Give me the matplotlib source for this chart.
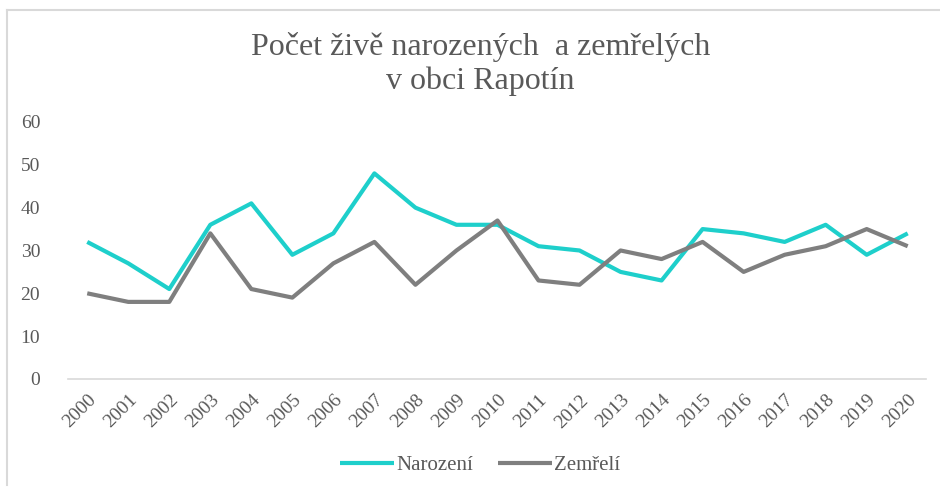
import matplotlib.pyplot as plt
from matplotlib.lines import Line2D

years = [str(y) for y in range(2000, 2021)]
narozeni = [32, 27, 21, 36, 41, 29, 34, 48, 40, 36, 36, 31, 30, 25, 23, 35, 34, 32, 36, 29, 34]
zemreli = [20, 18, 18, 34, 21, 19, 27, 32, 22, 30, 37, 23, 22, 30, 28, 32, 25, 29, 31, 35, 31]

plt.rcParams['font.family'] = ['Liberation Serif', 'DejaVu Serif']
txt_color = '#595959'

fig = plt.figure(figsize=(9.4, 4.87), dpi=100)
ax = fig.add_axes([0.0723, 0.2218, 0.913, 0.5277])

x = range(len(years))
ax.plot(x, narozeni, color='#1ECFCB', linewidth=3, label='Narození', solid_capstyle='butt')
ax.plot(x, zemreli, color='#7F7F7F', linewidth=3, label='Zemřelí', solid_capstyle='butt')

ax.set_xlim(-0.47, 20.45)
ax.set_ylim(0, 60)
ax.set_yticks(range(0, 61, 10))
ax.set_xticks(list(x))
ax.set_xticklabels(years, rotation=45, ha='right', rotation_mode='anchor')
ax.tick_params(axis='both', length=0, labelsize=14, colors=txt_color)
ax.tick_params(axis='y', pad=20)
ax.tick_params(axis='x', pad=9)
for side in ['top', 'right', 'left']:
    ax.spines[side].set_visible(False)
ax.spines['bottom'].set_color('#D9D9D9')
ax.spines['bottom'].set_linewidth(1.2)

fig.text(0.511, 1 - 47 / 487, 'Počet živě narozených  a zemřelých',
         ha='center', va='center', fontsize=23, color=txt_color)
fig.text(0.511, 1 - 81 / 487, 'v obci Rapotín',
         ha='center', va='center', fontsize=23, color=txt_color)

ax.legend(loc='center', bbox_to_anchor=(0.511, 1 - 465 / 487), bbox_transform=fig.transFigure,
          ncol=2, frameon=False, fontsize=15, handlelength=2.6, handletextpad=0.1,
          columnspacing=1.2, labelcolor=txt_color)

# chart frame (left and top edges visible)
fig.add_artist(Line2D([7 / 940, 7 / 940], [1 - 485 / 487, 1 - 10 / 487],
                      transform=fig.transFigure, color='#D9D9D9', linewidth=1.5))
fig.add_artist(Line2D([7 / 940, 1], [1 - 10 / 487, 1 - 10 / 487],
                      transform=fig.transFigure, color='#D9D9D9', linewidth=1.5))

fig.savefig('out.png', dpi=100)
